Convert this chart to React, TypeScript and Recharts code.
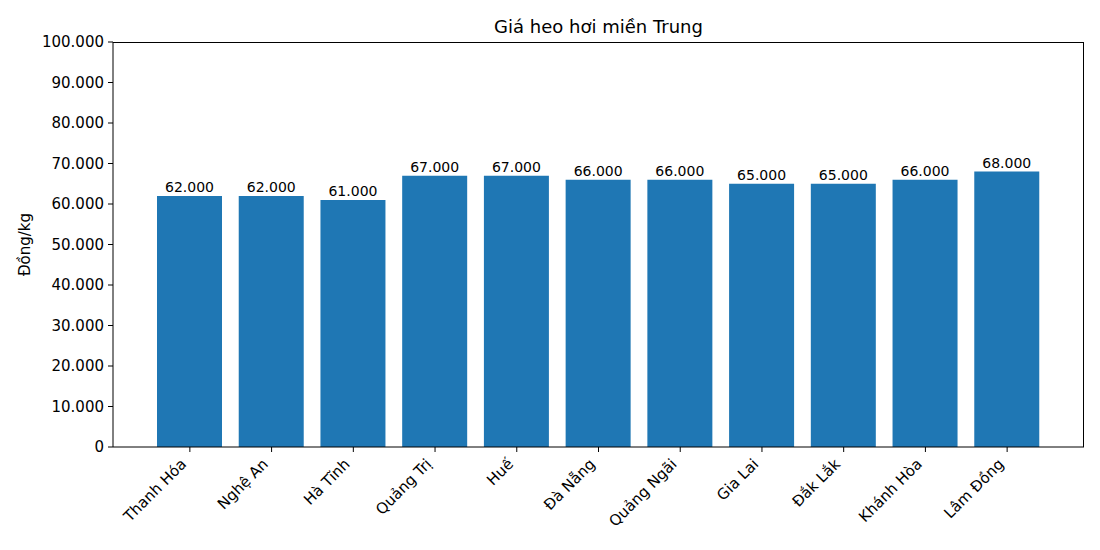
import React from 'react';
import { BarChart, Bar, XAxis, YAxis, LabelList, Label } from 'recharts';

const provinces = ['Thanh Hóa', 'Nghệ An', 'Hà Tĩnh', 'Quảng Trị', 'Huế', 'Đà Nẵng', 'Quảng Ngãi', 'Gia Lai', 'Đắk Lắk', 'Khánh Hòa', 'Lâm Đồng'];
const prices = [62000, 62000, 61000, 67000, 67000, 66000, 66000, 65000, 65000, 66000, 68000];
const yTicks = [0, 10000, 20000, 30000, 40000, 50000, 60000, 70000, 80000, 90000, 100000];

const data = provinces.map((p, i) => ({ name: p, price: prices[i] }));

const FONT = '"DejaVu Sans", sans-serif';
const W = 1100;
const H = 550;
const M = { top: 42, right: 16, left: 113, bottom: 103 };
const TICK_FS = 15;
const fmt = (v: number) => (v === 0 ? '0' : v.toLocaleString('de-DE'));

const XTick = (props: any) => {
  const { x, y, payload } = props;
  return (
    <g transform={`translate(${x - 2.5},${y + 11})`}>
      <text transform="rotate(-45)" textAnchor="end" fontSize={TICK_FS} fontFamily={FONT} fill="#000">
        {payload.value}
      </text>
    </g>
  );
};

export default function App() {
  return (
    <div style={{ position: 'absolute', left: 0, top: 0, width: W, height: H, background: '#fff' }}>
      <div
        style={{
          position: 'absolute',
          left: M.left,
          width: W - M.left - M.right,
          top: 16,
          textAlign: 'center',
          fontFamily: FONT,
          fontSize: 18,
          color: '#000',
          lineHeight: 1.2,
        }}
      >
        Giá heo hơi miền Trung
      </div>
      <BarChart
        width={W}
        height={H}
        data={data}
        margin={{ top: M.top, right: M.right, left: 0, bottom: 0 }}
        style={{ fontFamily: FONT }}
      >
        <XAxis
          dataKey="name"
          height={M.bottom}
          padding={{ left: 36, right: 36 }}
          tick={<XTick />}
          tickLine={{ stroke: '#000' }}
          tickSize={5}
          axisLine={{ stroke: '#000' }}
          interval={0}
        />
        <YAxis
          width={M.left}
          domain={[0, 100000]}
          ticks={yTicks}
          tickFormatter={fmt}
          interval={0}
          tick={{ fill: '#000', fontSize: TICK_FS, fontFamily: FONT }}
          tickLine={{ stroke: '#000' }}
          tickSize={5}
          tickMargin={4}
          axisLine={{ stroke: '#000' }}
        >
          <Label
            value="Đồng/kg"
            angle={-90}
            position="insideLeft"
            offset={25}
            style={{ textAnchor: 'middle', fill: '#000', fontSize: TICK_FS, fontFamily: FONT }}
          />
        </YAxis>
        <Bar dataKey="price" fill="#1f77b4" barSize={65} isAnimationActive={false}>
          <LabelList
            dataKey="price"
            position="top"
            offset={4}
            formatter={(v: any) => fmt(Number(v))}
            style={{ fill: '#000', fontSize: 14, fontFamily: FONT }}
          />
        </Bar>
      </BarChart>
      <div
        style={{
          position: 'absolute',
          left: M.left,
          top: M.top,
          width: W - M.left - M.right,
          height: H - M.top - M.bottom,
          boxSizing: 'border-box',
          borderTop: '1px solid #000',
          borderRight: '1px solid #000',
          pointerEvents: 'none',
        }}
      />
    </div>
  );
}
